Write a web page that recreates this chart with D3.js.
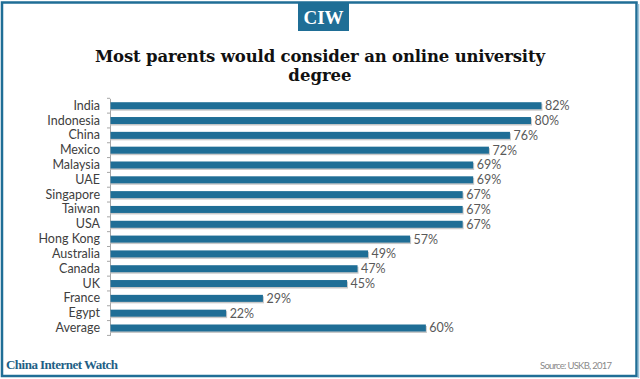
<!DOCTYPE html>
<html><head><meta charset="utf-8">
<script src="https://cdn.jsdelivr.net/npm/d3@7"></script>
<style>body{margin:0;background:#fff}svg{display:block}</style>
</head><body>
<script>
const categories = ["India","Indonesia","China","Mexico","Malaysia","UAE","Singapore","Taiwan","USA","Hong Kong","Australia","Canada","UK","France","Egypt","Average"];
const values = [82,80,76,72,69,69,67,67,67,57,49,47,45,29,22,60];
const valueLabels = values.map(v => v + "%");

const W = 640, H = 379;
const blue = "#1f6e96";
const svg = d3.select("body").append("svg").attr("width", W).attr("height", H);
svg.append("rect").attr("width", W).attr("height", H).attr("fill", "#fff");

// frame
svg.append("rect").attr("x", 2).attr("y", 2.5).attr("width", 634.5).attr("height", 373.5)
  .attr("fill", "none").attr("stroke", blue).attr("stroke-width", 2.5);
svg.append("line").attr("x1", 638.5).attr("x2", 638.5).attr("y1", 4).attr("y2", 378).attr("stroke", "#9cc3d8").attr("stroke-width", 1.5);

// logo
svg.append("rect").attr("x", 298).attr("y", 3).attr("width", 51).attr("height", 28).attr("fill", blue);
svg.append("text").attr("x", 323.5).attr("y", 24).attr("text-anchor", "middle")
  .attr("font-family", "Liberation Serif, serif").attr("font-weight", "bold").attr("font-size", 19)
  .attr("fill", "#fff").text("CIW");

// title
const title = svg.append("text").attr("text-anchor", "middle")
  .attr("font-family", "DejaVu Serif, serif").attr("font-weight", "bold").attr("font-size", 16.5).attr("fill", "#111");
title.append("tspan").attr("x", 320).attr("y", 62).attr("textLength", 450).text("Most parents would consider an online university");
title.append("tspan").attr("x", 320).attr("y", 81).text("degree");

// scales
const x = d3.scaleLinear().domain([0, 82]).range([110, 541]);
const band = d3.scaleBand().domain(categories).range([98.3, 335.4]);

// axis
const yAxis = d3.axisLeft(band).tickSize(0).tickPadding(10);
const ax = svg.append("g").attr("transform", "translate(110,0)").call(yAxis);
ax.select(".domain").attr("stroke", "#a6a6a6");
ax.selectAll("text").attr("font-family", "Lato, 'DejaVu Sans', sans-serif").attr("font-size", 12.5).attr("fill", "#404040");
// boundary ticks
const step = band.step();
svg.append("g").selectAll("line").data(d3.range(categories.length + 1)).join("line")
  .attr("x1", 107).attr("x2", 110).attr("y1", i => 98.3 + i * step).attr("y2", i => 98.3 + i * step)
  .attr("stroke", "#a6a6a6");

// shadows
svg.append("g").selectAll("rect").data(categories).join("rect")
  .attr("x", 110.5).attr("y", d => band(d) + band.bandwidth() / 2 - 3.5 + 1.5)
  .attr("width", (d, i) => x(values[i]) - 110 + 1).attr("height", 7)
  .attr("fill", "#c9c9c9");
svg.append("g").selectAll("rect").data(categories).join("rect")
  .attr("x", 110.5).attr("y", d => band(d) + band.bandwidth() / 2 - 3.5)
  .attr("width", (d, i) => x(values[i]) - 110).attr("height", 7)
  .attr("fill", blue);

svg.append("g").selectAll("text").data(categories).join("text")
  .attr("x", (d, i) => x(values[i]) + 4).attr("y", d => band(d) + band.bandwidth() / 2 + 4.5)
  .attr("font-family", "Lato, 'DejaVu Sans', sans-serif").attr("font-size", 12.5).attr("fill", "#595959")
  .text((d, i) => valueLabels[i]);

// footer
svg.append("text").attr("x", 6).attr("y", 369).attr("font-family", "Liberation Serif, serif")
  .attr("font-size", 13).attr("font-weight", "bold").attr("textLength", 112).attr("fill", "#1f5f86").text("China Internet Watch");
svg.append("text").attr("x", 612).attr("y", 369).attr("text-anchor", "end").attr("font-family", "Lato, sans-serif")
  .attr("font-size", 9.5).attr("textLength", 72).attr("fill", "#8a8a8a").text("Source: USKB, 2017");
</script>
</body></html>
